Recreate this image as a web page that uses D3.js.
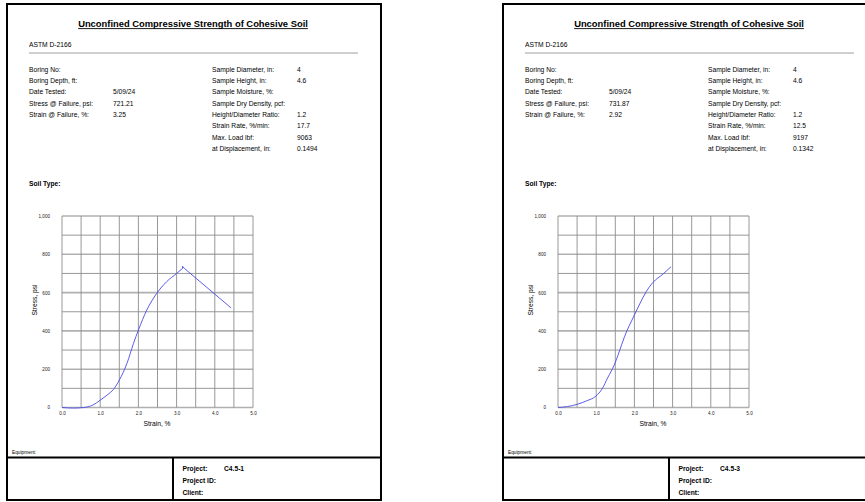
<!DOCTYPE html>
<html><head><meta charset="utf-8">
<script src="https://cdn.jsdelivr.net/npm/d3@7"></script>
<style>
html,body{margin:0;padding:0;background:#fff;}
svg{display:block;font-family:"Liberation Sans",Arial,sans-serif;}
</style></head>
<body>
<svg id="c" width="865" height="502"></svg>
<script>
// ---- data ----
const titleText = "Unconfined Compressive Strength of Cohesive Soil";
const standardText = "ASTM D-2166";
const leftLabels = ["Boring No:", "Boring Depth, ft:", "Date Tested:", "Stress @ Failure, psi:", "Strain @ Failure, %:"];
const rightLabels = ["Sample Diameter, in:", "Sample Height, in:", "Sample Moisture, %:", "Sample Dry Density, pcf:", "Height/Diameter Ratio:", "Strain Rate, %/min:", "Max. Load lbf:", "at Displacement, in:"];

const leftValues1 = ["", "", "5/09/24", "721.21", "3.25"];
const rightValues1 = ["4", "4.6", "", "", "1.2", "17.7", "9063", "0.1494"];
const project1 = "C4.5-1";
// rising part (smooth) and post-peak part (straight segments)
const strain1 = [0, 0.3, 0.57, 0.8, 1.0, 1.2, 1.35, 1.5, 1.7, 1.87, 2.0, 2.22, 2.48, 2.74, 3.0, 3.16];
const stress1 = [0, -3, 0, 12, 38, 68, 95, 143, 230, 334, 404, 509, 596, 657, 700, 727];
const strain1Post = [3.16, 3.15, 3.2, 4.42];
const stress1Post = [727, 738, 727, 521];

const leftValues2 = ["", "", "5/09/24", "731.87", "2.92"];
const rightValues2 = ["4", "4.6", "", "", "1.2", "12.5", "9197", "0.1342"];
const project2 = "C4.5-3";
const strain2 = [0, 0.25, 0.51, 0.75, 0.99, 1.16, 1.3, 1.47, 1.6, 1.74, 2.0, 2.15, 2.31, 2.48, 2.75, 2.96];
const stress2 = [0, 5, 17, 35, 59, 99, 155, 221, 290, 369, 483, 545, 605, 652, 697, 735];
const strain2Post = [];
const stress2Post = [];

const xTicks = [0, 1, 2, 3, 4, 5];
const xGrid = [0, 0.5, 1, 1.5, 2, 2.5, 3, 3.5, 4, 4.5, 5];
const yTicks = [0, 200, 400, 600, 800, 1000];
const yGrid = [100, 300, 500, 700, 900];
const bottomLabels = ["Project:", "Project ID:", "Client:"];

// ---- drawing ----
const svg = d3.select("#c");
svg.append("rect").attr("width", 865).attr("height", 502).attr("fill", "#fff");
const FS = 6.7;

function page(L, leftValues, rightValues, project, strain, stress, strainPost, stressPost) {
  const g = svg.append("g");
  const top = 4, W = 374, bottom = 500;

  // title
  const t = g.append("text").attr("x", L + 186).attr("y", 26.8)
    .attr("text-anchor", "middle").attr("font-size", 9.4).attr("font-weight", "bold")
    .attr("fill", "#000").text(titleText);
  const tw = t.node().getComputedTextLength();
  g.append("line").attr("x1", L + 186 - tw / 2).attr("x2", L + 186 + tw / 2)
    .attr("y1", 28.6).attr("y2", 28.6).attr("stroke", "#000").attr("stroke-width", 0.9);

  g.append("text").attr("x", L + 22).attr("y", 46.5).attr("font-size", FS).text(standardText);
  g.append("line").attr("x1", L + 22).attr("x2", L + 351).attr("y1", 53).attr("y2", 53)
    .attr("stroke", "#a0a0a0").attr("stroke-width", 1);

  const rowY = i => 71.7 + i * 11.3;
  leftLabels.forEach((s, i) => {
    g.append("text").attr("x", L + 22).attr("y", rowY(i)).attr("font-size", FS).text(s);
    g.append("text").attr("x", L + 106).attr("y", rowY(i)).attr("font-size", FS).text(leftValues[i]);
  });
  rightLabels.forEach((s, i) => {
    g.append("text").attr("x", L + 205).attr("y", rowY(i)).attr("font-size", FS).text(s);
    g.append("text").attr("x", L + 290).attr("y", rowY(i)).attr("font-size", FS).text(rightValues[i]);
  });
  g.append("text").attr("x", L + 22).attr("y", 186.3).attr("font-size", FS)
    .attr("font-weight", "bold").text("Soil Type:");

  // chart
  const x = d3.scaleLinear().domain([0, 5]).range([L + 55, L + 246]);
  const y = d3.scaleLinear().domain([0, 1000]).range([407.5, 216]);

  g.append("g").selectAll("line").data(yGrid).join("line")
    .attr("x1", x(0)).attr("x2", x(5)).attr("y1", d => y(d)).attr("y2", d => y(d))
    .attr("stroke", "#8c8c8c").attr("stroke-width", 0.9);
  g.append("g").selectAll("line").data(yTicks).join("line")
    .attr("x1", x(0)).attr("x2", x(5)).attr("y1", d => y(d)).attr("y2", d => y(d))
    .attr("stroke", "#b0b0b0").attr("stroke-width", 1.6);
  g.append("g").selectAll("line").data(xGrid).join("line")
    .attr("x1", d => x(d)).attr("x2", d => x(d)).attr("y1", y(0)).attr("y2", y(1000))
    .attr("stroke", "#8c8c8c").attr("stroke-width", 0.9);

  const yAxis = d3.axisLeft(y).tickValues(yTicks).tickSize(0).tickPadding(0)
    .tickFormat(d3.format(","));
  const ya = g.append("g").attr("transform", `translate(${L + 43},0)`).call(yAxis);
  ya.select(".domain").remove();
  ya.selectAll("text").attr("font-size", 4.6).attr("fill", "#222")
    .attr("font-family", "Liberation Sans, Arial, sans-serif");

  const xAxis = d3.axisBottom(x).tickValues(xTicks).tickSize(0).tickPadding(0)
    .tickFormat(d3.format(".1f"));
  const xa = g.append("g").attr("transform", `translate(0,412)`).call(xAxis);
  xa.select(".domain").remove();
  xa.selectAll("text").attr("font-size", 4.6).attr("fill", "#222")
    .attr("font-family", "Liberation Sans, Arial, sans-serif");

  g.append("text").attr("x", L + 150).attr("y", 426.3).attr("text-anchor", "middle")
    .attr("font-size", FS).text("Strain, %");
  g.append("text").attr("transform", `translate(${L + 29.5},300) rotate(-90)`)
    .attr("text-anchor", "middle").attr("font-size", FS).text("Stress, psi");

  const pts = strain.map((s, i) => [s, stress[i]]);
  g.append("path").datum(pts)
    .attr("d", d3.line().x(d => x(d[0])).y(d => y(d[1])).curve(d3.curveMonotoneX))
    .attr("fill", "none").attr("stroke", "#4a4ae6").attr("stroke-width", 0.9);
  if (strainPost.length) {
    const pp = strainPost.map((s, i) => [s, stressPost[i]]);
    g.append("path").datum(pp)
      .attr("d", d3.line().x(d => x(d[0])).y(d => y(d[1])))
      .attr("fill", "none").attr("stroke", "#4a4ae6").attr("stroke-width", 0.9);
  }

  // bottom block
  g.append("text").attr("x", L + 5).attr("y", 453.5).attr("font-size", 4.8).text("Equipment:");
  g.append("line").attr("x1", L).attr("x2", L + W).attr("y1", 457.5).attr("y2", 457.5)
    .attr("stroke", "#000").attr("stroke-width", 2);
  g.append("line").attr("x1", L + 166).attr("x2", L + 166).attr("y1", 457.5).attr("y2", bottom)
    .attr("stroke", "#000").attr("stroke-width", 2);
  bottomLabels.forEach((s, i) => {
    g.append("text").attr("x", L + 175.5).attr("y", 470.5 + i * 12).attr("font-size", FS)
      .attr("font-weight", "bold").text(s);
  });
  g.append("text").attr("x", L + 217).attr("y", 470.5).attr("font-size", FS)
    .attr("font-weight", "bold").text(project);

  g.append("rect").attr("x", L).attr("y", top).attr("width", W).attr("height", bottom - top)
    .attr("fill", "none").attr("stroke", "#000").attr("stroke-width", 2);
}

page(7, leftValues1, rightValues1, project1, strain1, stress1, strain1Post, stress1Post);
page(503, leftValues2, rightValues2, project2, strain2, stress2, strain2Post, stress2Post);
</script>
</body></html>
